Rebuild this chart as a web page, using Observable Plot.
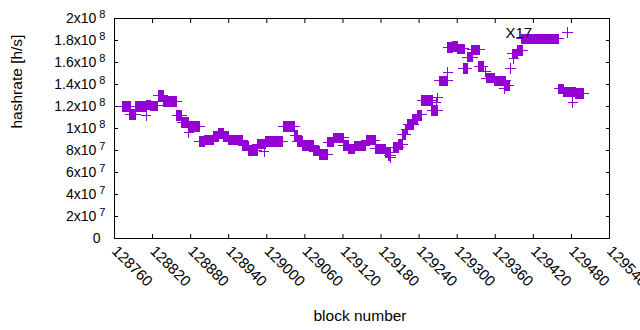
<!DOCTYPE html>
<html><head><meta charset="utf-8">
<script src="https://cdn.jsdelivr.net/npm/d3@7"></script>
<script src="https://cdn.jsdelivr.net/npm/@observablehq/plot@0.6"></script>
<style>
html,body{margin:0;padding:0;background:#fff;}
</style></head><body><div id="chart"></div>
<script>
// Runs of blocks sharing the same hashrate estimate
const runStart = [128773,128784,128793,128810,128810,128817,128829,128837,128858,128866,128877,128877,128894,128902,128916,128924,128932,128940,128962,128971,128996,128985,128998,129026,129044,129048,129056,129074,129083,129096,129105,129121,129129,129138,129157,129171,129187,129192,129195,129200,129208,129214,129219,129222,129230,129237,129244,129267,129269,129260,129272,129285,129285,129293,129300,129310,129316,129323,129334,129345,129346,129359,129376,129374,129384,129389,129387,129395,129401,129474,129460,129467,129482,129486];
const runEnd   = [128785,128793,128809,128810,128817,128828,128837,128858,128866,128877,128877,128894,128902,128916,128924,128932,128940,128962,128971,128985,128996,128998,129025,129044,129048,129056,129074,129083,129096,129105,129121,129129,129138,129155,129171,129187,129195,129195,129195,129208,129214,129219,129222,129231,129237,129244,129261,129267,129269,129269,129285,129285,129293,129300,129311,129316,129324,129335,129341,129345,129359,129376,129382,129374,129384,129389,129395,129403,129460,129474,129467,129486,129482,129499];
const runValue = [1.200e8,1.127e8,1.200e8,1.118e8,1.214e8,1.205e8,1.300e8,1.245e8,1.118e8,1.055e8,0.964e8,1.018e8,0.882e8,0.895e8,0.927e8,0.955e8,0.927e8,0.895e8,0.841e8,0.800e8,0.790e8,0.859e8,0.882e8,1.018e8,0.936e8,0.882e8,0.845e8,0.795e8,0.764e8,0.877e8,0.914e8,0.845e8,0.814e8,0.841e8,0.895e8,0.814e8,0.782e8,0.755e8,0.736e8,0.827e8,0.855e8,0.945e8,0.990e8,1.036e8,1.077e8,1.123e8,1.255e8,1.236e8,1.280e8,1.164e8,1.432e8,1.510e8,1.736e8,1.745e8,1.723e8,1.545e8,1.650e8,1.714e8,1.564e8,1.518e8,1.459e8,1.432e8,1.390e8,1.364e8,1.545e8,1.636e8,1.680e8,1.710e8,1.814e8,1.873e8,1.360e8,1.332e8,1.236e8,1.318e8];

const xTicks = [128760,128820,128880,128940,129000,129060,129120,129180,129240,129300,129360,129420,129480,129540];
const yTicks = [0,2e7,4e7,6e7,8e7,1e8,1.2e8,1.4e8,1.6e8,1.8e8,2e8];
const yTickLabels = ["0","2x10^7","4x10^7","6x10^7","8x10^7","1x10^8","1.2x10^8","1.4x10^8","1.6x10^8","1.8x10^8","2x10^8"];
const annotationText = ["X17"];
const annotationBlock = [129376];
const annotationValue = [1.87e8];
const xTitle = "block number";
const yTitle = "hashrate [h/s]";

const points = [];
runStart.forEach((s, i) => { for (let b = s; b <= runEnd[i]; b++) points.push({block: b, hashrate: runValue[i]}); });

const font = '"Liberation Sans", Arial, sans-serif';
const chart = Plot.plot({
  width: 640, height: 330,
  marginLeft: 114, marginRight: 31, marginTop: 18, marginBottom: 92,
  style: {fontFamily: font, fontSize: "14px", color: "#000", background: "#fff"},
  x: {domain: [128760, 129540]},
  y: {domain: [0, 2e8]},
  marks: [
    Plot.dot(points, {x: "block", y: "hashrate", symbol: "plus", r: 3.4, stroke: "#9400d3", strokeWidth: 1, shapeRendering: "crispEdges"}),
    Plot.frame({stroke: "#000", shapeRendering: "crispEdges"}),
    Plot.axisX(xTicks, {anchor: "bottom", tickSize: 0, tickPadding: 10, tickRotate: 45, tickFormat: d => String(d), label: null, fontSize: 15}),
    Plot.axisX(xTicks, {anchor: "bottom", tickSize: -4, tickFormat: () => "", label: null}),
    Plot.axisX(xTicks, {anchor: "top", tickSize: -4, tickFormat: () => "", label: null}),
    Plot.axisY(yTicks, {anchor: "left", tickSize: 0, tickPadding: 9, tickFormat: d => yTickLabels[yTicks.indexOf(d)], label: null, fontSize: 14}),
    Plot.axisY(yTicks, {anchor: "left", tickSize: -4, tickFormat: () => "", label: null}),
    Plot.axisY(yTicks, {anchor: "right", tickSize: -4, tickFormat: () => "", label: null}),
    Plot.text([yTitle], {text: d => d, frameAnchor: "left", dx: -97, rotate: -90, fontSize: 15.5}),
    Plot.text([xTitle], {text: d => d, frameAnchor: "bottom", dy: 82, dx: -2, fontSize: 15.5}),
    Plot.text(annotationText, {text: d => d, x: (d, i) => annotationBlock[i], y: (d, i) => annotationValue[i], textAnchor: "start", fontSize: 15})
  ]
});

chart.querySelectorAll('g[aria-label="y-axis tick label"] text').forEach(t => {
  const s = t.textContent; const k = s.indexOf("^");
  if (k < 0) { t.setAttribute("dx", "-5"); return; }
  t.textContent = s.slice(0, k);
  const ts = document.createElementNS("http://www.w3.org/2000/svg", "tspan");
  ts.setAttribute("dy", "-5");
  ts.setAttribute("font-size", "11");
  ts.textContent = " " + s.slice(k + 1);
  t.appendChild(ts);
});
document.getElementById("chart").appendChild(chart);
</script></body></html>
